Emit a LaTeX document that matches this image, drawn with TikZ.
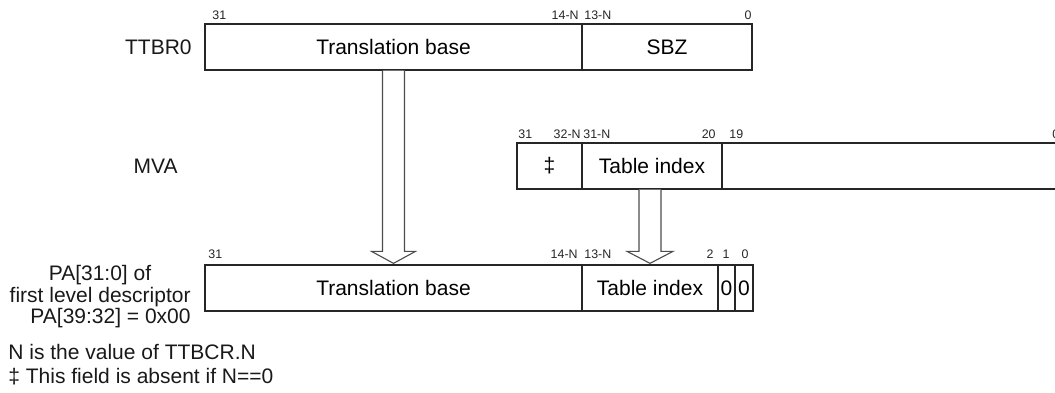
\documentclass[tikz,border=0pt]{standalone}
\usepackage{fontspec}
\setmainfont{Liberation Sans}
\usetikzlibrary{calc}
\tikzset{
  fieldbox/.style={draw=black!85, line width=0.65pt, inner sep=0pt, minimum height=23pt, font=\fontsize{10.5}{12.6}\selectfont},
  bitlbl/.style={inner sep=0pt, font=\fontsize{6.2}{7.4}\selectfont, text=black!85},
  rowlbl/.style={inner sep=0pt, font=\fontsize{10.5}{12.6}\selectfont, text=black!90},
  fatarrow/.style={draw=black!70, line width=0.55pt, line join=miter, fill=white}
}
\begin{document}
\begin{tikzpicture}[x=0.5pt,y=-0.5pt]
\useasboundingbox (0,0) rectangle (1055,392);
\clip (0,0) rectangle (1055,392);

% TTBR0 row
\node[fieldbox, minimum width=188.5pt] (tb) at (393.5,47) {Translation base};
\node[fieldbox, minimum width=85pt] (sbz) at (667,47) {SBZ};
\node[rowlbl, anchor=east] (lttbr) at (192,47) {TTBR0};
\node[bitlbl, anchor=west] (t31) at (212,15) {31};
\node[bitlbl, anchor=east] (t14) at (579,15) {14-N};
\node[bitlbl, anchor=west] (t13) at (584,15) {13-N};
\node[bitlbl, anchor=east] (t0) at (752,15) {0};

% MVA row
\node[fieldbox, minimum width=32.5pt] (m1) at (549.5,166) {‡};
\node[fieldbox, minimum width=70pt] (m2) at (652,166) {Table index};
\node[fieldbox, minimum width=176.5pt] (m3) at (898.5,166) {};
\node[rowlbl, anchor=east] (lmva) at (178,166) {MVA};
\node[bitlbl, anchor=west] (v31) at (518,134) {31};
\node[bitlbl, anchor=east] (v32) at (581,134) {32-N};
\node[bitlbl, anchor=west] (v31n) at (583,134) {31-N};
\node[bitlbl, anchor=east] (v20) at (716,134) {20};
\node[bitlbl, anchor=west] (v19) at (729,134) {19};
\node[bitlbl, anchor=west] (v0) at (1052,134) {0};

% PA row
\node[fieldbox, minimum width=188.5pt] (p1) at (393.5,288) {Translation base};
\node[fieldbox, minimum width=68pt] (p2) at (650,288) {Table index};
\node[fieldbox, minimum width=8.5pt] (p3) at (726.5,288) {0};
\node[fieldbox, minimum width=9pt] (p4) at (744,288) {0};
\node[bitlbl, anchor=west] (q31) at (208,254) {31};
\node[bitlbl, anchor=east] (q14) at (578,254) {14-N};
\node[bitlbl, anchor=west] (q13) at (584,254) {13-N};
\node[bitlbl] (q2) at (710,254) {2};
\node[bitlbl] (q1) at (726,254) {1};
\node[bitlbl] (q0) at (745,254) {0};

\node[rowlbl] (la) at (100,275) {PA[31:0] of};
\node[rowlbl, anchor=east] (lb) at (191,297) {first level descriptor};
\node[rowlbl, anchor=east] (lc) at (191,318) {PA[39:32] = 0x00};

\node[rowlbl, anchor=west] (n1) at (8,352) {N is the value of TTBCR.N};
\node[rowlbl, anchor=west] (n2) at (8,377) {‡ This field is absent if N==0};

% block arrows
\draw[fatarrow] ($(tb.south)+(-11,0)$) -- ($(p1.north)+(-11,-13)$) -- ($(p1.north)+(-22,-13)$)
  -- ($(p1.north)+(0,-1)$) -- ($(p1.north)+(22,-13)$) -- ($(p1.north)+(11,-13)$) -- ($(tb.south)+(11,0)$);
\draw[fatarrow] ($(m2.south)+(-13,0)$) -- ($(p2.north)+(-11,-13)$) -- ($(p2.north)+(-23,-13)$)
  -- ($(p2.north)+(0,-1)$) -- ($(p2.north)+(23,-13)$) -- ($(p2.north)+(11,-13)$) -- ($(m2.south)+(9,0)$);
\end{tikzpicture}
\end{document}
